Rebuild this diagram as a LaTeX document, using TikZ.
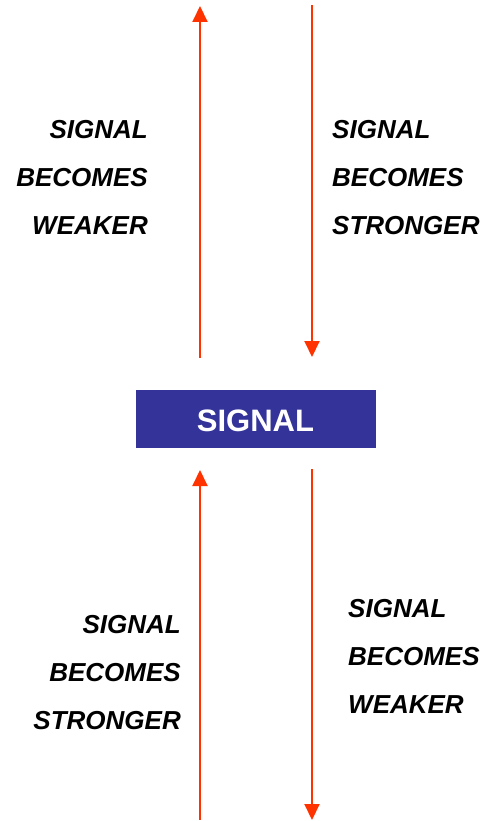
\documentclass[tikz,border=0pt]{standalone}
\usepackage{fontspec}
\setmainfont{Liberation Sans}
\usetikzlibrary{arrows.meta}
\definecolor{signalblue}{HTML}{333399}
\definecolor{arrowred}{HTML}{FF3300}
\begin{document}
\begin{tikzpicture}[x=1pt,y=-1pt,
  flow/.style={draw=arrowred,line width=2pt,-{Triangle[width=15pt,length=16pt]}},
  caption/.style={font=\fontsize{26}{48}\selectfont\bfseries\itshape,inner sep=0pt},
  signalbox/.style={fill=signalblue,text=white,minimum width=240pt,minimum height=58pt,
    inner sep=0pt,font=\fontsize{31}{31}\selectfont\bfseries}]
  \useasboundingbox (0,0) rectangle (487,821);

  % central block
  \node[signalbox] (sig) at (256,419) {};
  \node[font=\fontsize{31}{31}\selectfont\bfseries,text=white,inner sep=0pt,anchor=base]
    (sigtext) at (255.5,431) {SIGNAL};

  % arrow end points
  \coordinate (ulA) at (200,358); \coordinate (ulB) at (200,6);
  \coordinate (urA) at (312,5);   \coordinate (urB) at (312,357);
  \coordinate (llA) at (200,820); \coordinate (llB) at (200,470);
  \coordinate (lrA) at (312,469); \coordinate (lrB) at (312,820);

  \draw[flow] (ulA) -- (ulB);
  \draw[flow] (urA) -- (urB);
  \draw[flow] (llA) -- (llB);
  \draw[flow] (lrA) -- (lrB);

  % captions (anchored at the baseline of the last line)
  \node[caption,align=right,anchor=base east] (tl) at (148,234) {SIGNAL\\BECOMES\\WEAKER};
  \node[caption,align=left,anchor=base west] (tr) at (332,234) {SIGNAL\\BECOMES\\STRONGER};
  \node[caption,align=right,anchor=base east] (bl) at (181,729) {SIGNAL\\BECOMES\\STRONGER};
  \node[caption,align=left,anchor=base west] (br) at (348,713) {SIGNAL\\BECOMES\\WEAKER};
\end{tikzpicture}
\end{document}
